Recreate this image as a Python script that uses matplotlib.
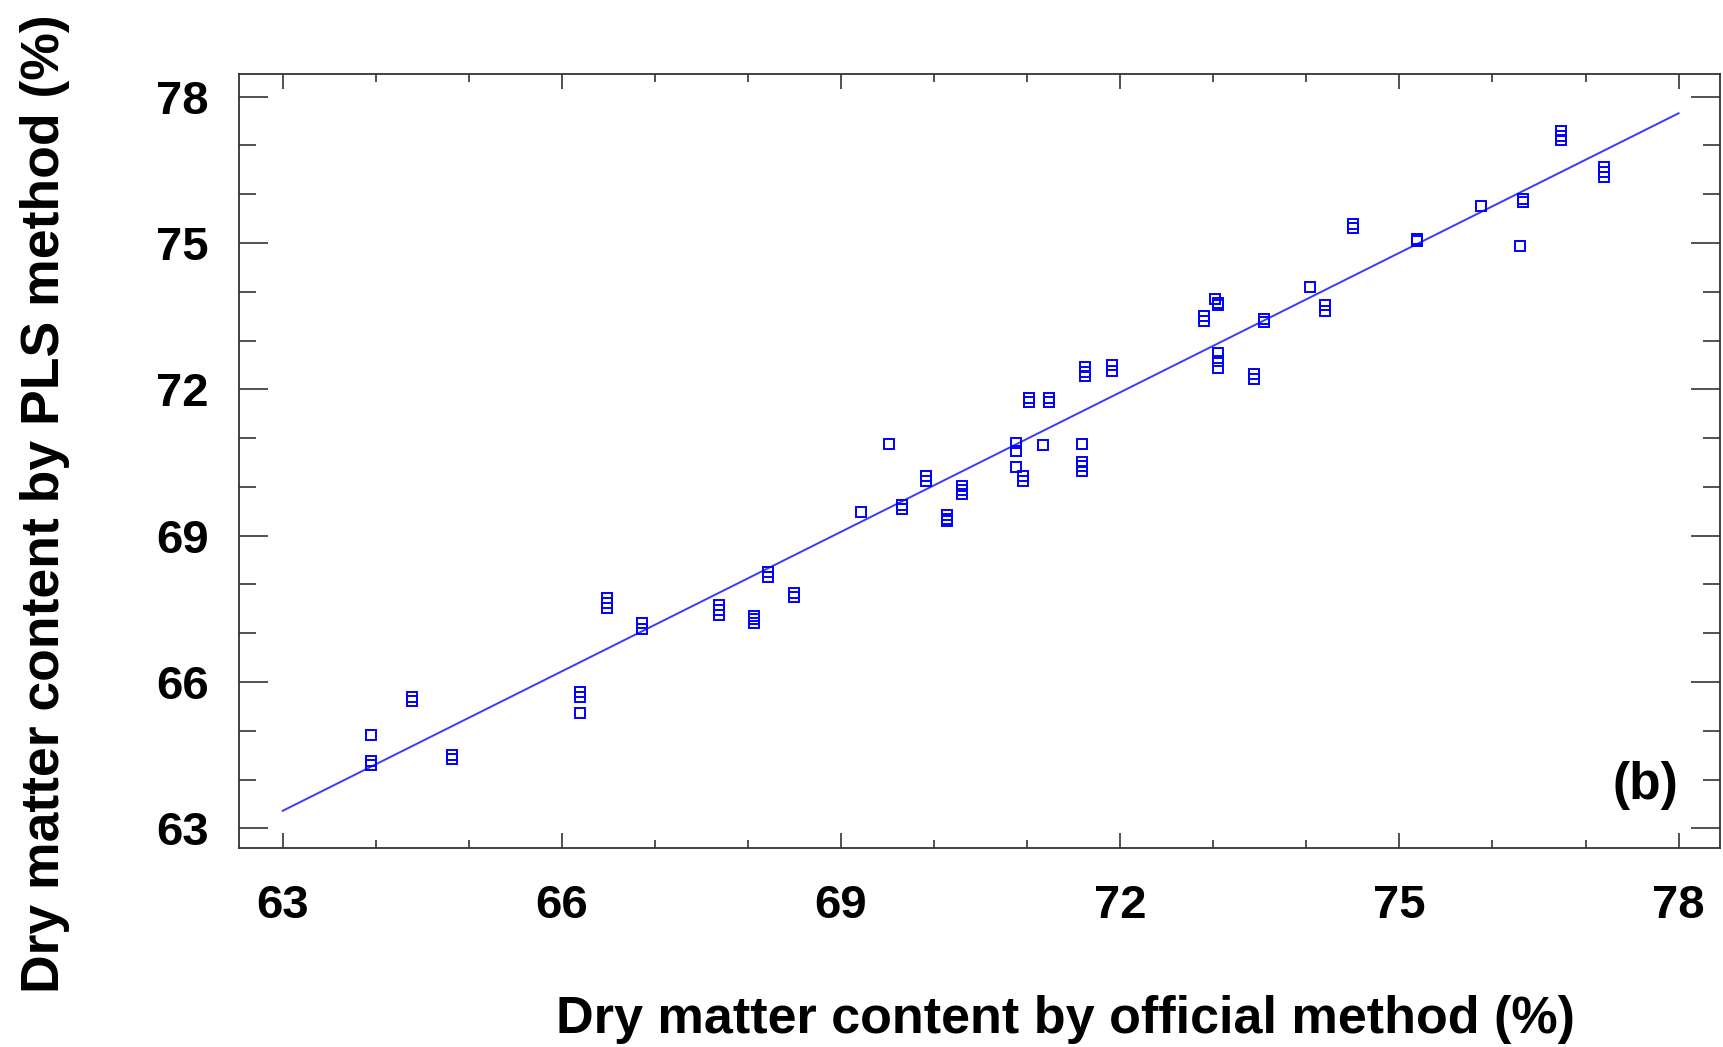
import matplotlib
matplotlib.use("Agg")
import matplotlib.pyplot as plt
from matplotlib.ticker import MultipleLocator

# Contenido de materia seca (%): metodo oficial vs prediccion PLS
official = [63.95, 63.95, 63.95,
            64.39, 64.39,
            64.82, 64.82,
            66.19, 66.19, 66.19,
            66.49, 66.49, 66.49,
            66.86, 66.86,
            67.69, 67.69, 67.69,
            68.06, 68.06, 68.06,
            68.22, 68.22,
            68.49, 68.49,
            69.21,
            69.52,
            69.65, 69.65,
            69.91, 69.91,
            70.14, 70.14, 70.14,
            70.30, 70.30, 70.30,
            70.88, 70.88, 70.88,
            70.96, 70.96,
            71.17,
            71.02, 71.02,
            71.24, 71.24,
            71.59,
            71.59, 71.59, 71.59,
            71.62, 71.62, 71.62,
            71.91, 71.91,
            73.02, 73.05, 73.05,
            72.90, 72.90,
            73.05, 73.05, 73.05,
            73.44, 73.44,
            73.55, 73.55,
            74.04,
            74.20, 74.20,
            74.50, 74.50,
            75.19, 75.19,
            75.88,
            76.33, 76.33,
            76.30,
            76.74, 76.74, 76.74,
            77.20, 77.20, 77.20]

pls = [64.91, 64.30, 64.38,
       65.62, 65.70,
       64.42, 64.50,
       65.80, 65.70, 65.37,
       67.72, 67.62, 67.52,
       67.20, 67.08,
       67.58, 67.48, 67.38,
       67.36, 67.30, 67.20,
       68.25, 68.15,
       67.82, 67.75,
       69.49,
       70.89,
       69.63, 69.55,
       70.22, 70.12,
       69.43, 69.35, 69.30,
       70.02, 69.93, 69.85,
       70.91, 70.74, 70.41,
       70.22, 70.13,
       70.86,
       71.82, 71.74,
       71.82, 71.74,
       70.89,
       70.52, 70.42, 70.32,
       72.45, 72.35, 72.27,
       72.50, 72.38,
       73.85, 73.78, 73.72,
       73.50, 73.40,
       72.74, 72.58, 72.44,
       72.32, 72.22,
       73.45, 73.38,
       74.09,
       73.72, 73.60,
       75.40, 75.30,
       75.09, 75.04,
       75.76,
       75.90, 75.84,
       74.93,
       77.30, 77.20, 77.12,
       76.55, 76.45, 76.35]

# Recta de regresion
fit_x = [63.0, 78.0]
fit_y = [63.36, 77.66]

ticks = [63, 66, 69, 72, 75, 78]

plt.rcParams['font.family'] = ['Liberation Sans', 'DejaVu Sans']
plt.rcParams['font.weight'] = 'bold'

fig = plt.figure(figsize=(17.23, 10.47), dpi=100)
ax = fig.add_axes([0.1389, 0.190, 0.8594, 0.7393])

ax.plot(fit_x, fit_y, color='#3a3aff', lw=1.4, zorder=2)
ax.plot(official, pls, ls='none', marker='s', ms=6.6, mfc='none',
        mec='#0000ff', mew=1.4, zorder=3)

ax.set_xlim(62.534, 78.446)
ax.set_ylim(62.596, 78.465)
ax.set_xticks(ticks)
ax.set_yticks(ticks)
ax.xaxis.set_minor_locator(MultipleLocator(1))
ax.yaxis.set_minor_locator(MultipleLocator(1))

for s in ax.spines.values():
    s.set_color('#333333')
    s.set_linewidth(1.3)

ax.tick_params(axis='x', which='both', direction='in', top=True, bottom=True,
               color='#333333', width=1.2)
ax.tick_params(axis='x', which='major', length=10.5, pad=26, labelsize=34)
ax.tick_params(axis='x', which='minor', length=5.5)
ax.tick_params(axis='y', which='both', direction='in', left=True, right=True,
               color='#333333', width=1.2)
ax.tick_params(axis='y', which='major', length=21, pad=22, labelsize=34)
ax.tick_params(axis='y', which='minor', length=12)
for lab in ax.get_xticklabels() + ax.get_yticklabels():
    lab.set_fontweight('bold')

fig.text(1066 / 1723, 0.0134, 'Dry matter content by official method (%)',
         ha='center', va='baseline', fontsize=37.5, fontweight='bold')
fig.text(45 / 1723, 0.5186, 'Dry matter content by PLS method (%)',
         rotation=90, ha='center', va='center', fontsize=38.5, fontweight='bold')

ax.text(0.9716, 0.0814, '(b)', transform=ax.transAxes, ha='right', va='center',
        fontsize=37, fontweight='bold')

fig.savefig('out.png', dpi=100)
